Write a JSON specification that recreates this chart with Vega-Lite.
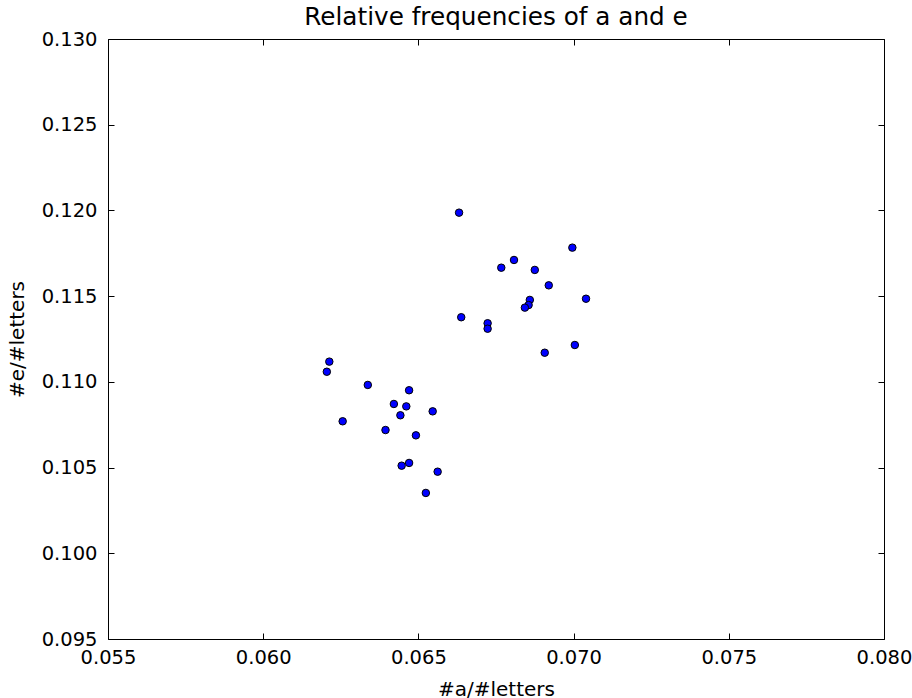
{
  "$schema": "https://vega.github.io/schema/vega-lite/v6.json",
  "width": 776,
  "height": 600,
  "autosize": "none",
  "padding": {"left": 108, "top": 39, "right": 28, "bottom": 59},
  "background": "white",
  "config": {
    "view": {"stroke": "black", "strokeWidth": 1},
    "font": "DejaVu Sans",
    "axis": {
      "grid": false,
      "domain": false,
      "tickColor": "black",
      "tickWidth": 1,
      "tickSize": -6,
      "labelColor": "black",
      "labelFont": "DejaVu Sans",
      "labelFontSize": 19.5,
      "titleColor": "black",
      "titleFont": "DejaVu Sans",
      "titleFontSize": 20,
      "titleFontWeight": "normal"
    }
  },
  "title": {
    "text": "Relative frequencies of a and e",
    "font": "DejaVu Sans",
    "fontSize": 24.7,
    "fontWeight": "normal",
    "color": "black",
    "baseline": "alphabetic",
    "offset": 11,
    "dy": 32
  },
  "data": {
    "values": [
      {"a": 0.06213, "e": 0.11118},
      {"a": 0.06205, "e": 0.11059},
      {"a": 0.06337, "e": 0.10982},
      {"a": 0.06470, "e": 0.10951},
      {"a": 0.06421, "e": 0.10871},
      {"a": 0.06461, "e": 0.10857},
      {"a": 0.06546, "e": 0.10828},
      {"a": 0.06442, "e": 0.10805},
      {"a": 0.06256, "e": 0.10770},
      {"a": 0.06394, "e": 0.10719},
      {"a": 0.06492, "e": 0.10688},
      {"a": 0.06446, "e": 0.10511},
      {"a": 0.06470, "e": 0.10527},
      {"a": 0.06562, "e": 0.10476},
      {"a": 0.06524, "e": 0.10352},
      {"a": 0.06631, "e": 0.11987},
      {"a": 0.06996, "e": 0.11783},
      {"a": 0.06808, "e": 0.11711},
      {"a": 0.06767, "e": 0.11666},
      {"a": 0.06875, "e": 0.11653},
      {"a": 0.06920, "e": 0.11563},
      {"a": 0.07040, "e": 0.11485},
      {"a": 0.06859, "e": 0.11478},
      {"a": 0.06855, "e": 0.11448},
      {"a": 0.06843, "e": 0.11433},
      {"a": 0.06638, "e": 0.11377},
      {"a": 0.06723, "e": 0.11342},
      {"a": 0.06723, "e": 0.11310},
      {"a": 0.07004, "e": 0.11215},
      {"a": 0.06907, "e": 0.11170}
    ]
  },
  "layer": [
    {
      "mark": {"type": "point", "shape": "circle", "filled": true, "fill": "#0000ff", "stroke": "black", "strokeWidth": 1, "size": 56, "opacity": 1},
      "encoding": {
        "x": {
          "field": "a", "type": "quantitative",
          "scale": {"domain": [0.055, 0.080], "nice": false, "zero": false},
          "axis": {"values": [0.055, 0.060, 0.065, 0.070, 0.075, 0.080], "format": ".3f", "title": "#a/#letters", "titleBaseline": "alphabetic", "titleY": 56, "labelPadding": 15, "labelFlush": false}
        },
        "y": {
          "field": "e", "type": "quantitative",
          "scale": {"domain": [0.095, 0.130], "nice": false, "zero": false},
          "axis": {"values": [0.095, 0.100, 0.105, 0.110, 0.115, 0.120, 0.125, 0.130], "format": ".3f", "title": "#e/#letters", "titleBaseline": "alphabetic", "titleX": -85, "labelPadding": 17, "labelFlush": false}
        }
      }
    },
    {
      "mark": {"type": "point", "opacity": 0},
      "encoding": {
        "x": {
          "field": "a", "type": "quantitative",
          "axis": {"orient": "top", "values": [0.055, 0.060, 0.065, 0.070, 0.075, 0.080], "labels": false, "title": null}
        },
        "y": {
          "field": "e", "type": "quantitative",
          "axis": {"orient": "right", "values": [0.095, 0.100, 0.105, 0.110, 0.115, 0.120, 0.125, 0.130], "labels": false, "title": null}
        }
      }
    }
  ],
  "resolve": {"axis": {"x": "independent", "y": "independent"}}
}
